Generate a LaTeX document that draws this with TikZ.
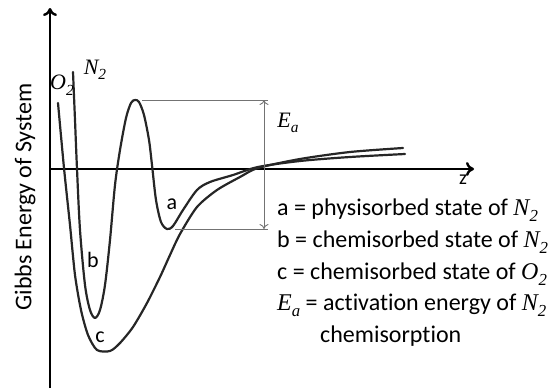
\documentclass[tikz,border=0pt]{standalone}
\usepackage{fontspec}
\setmainfont{Carlito}[Ligatures=NoCommon]
\newfontfamily\serifit{Liberation Serif Italic}
\usetikzlibrary{arrows.meta}
\newcommand{\mvar}[2]{{\serifit #1}\raisebox{-0.25em}{\serifit\scalebox{0.7}{#2}}}
\tikzset{
  axis/.style={line width=2.4pt, black},
  curve/.style={line width=2.2pt, black!85, line join=round, line cap=round},
  guide/.style={line width=0.9pt, black!55},
  legend/.style={anchor=base west, inner sep=0pt, font=\fontsize{24}{28}\selectfont},
  lbl/.style={inner sep=0pt, font=\fontsize{22}{26}\selectfont}
}
\begin{document}
\begin{tikzpicture}[x=1pt,y=-1pt]
\useasboundingbox (0,0) rectangle (558,391);
% axes
\coordinate (ybot) at (50,388);
\coordinate (ytop) at (50,8);
\coordinate (xl) at (50,169);
\coordinate (xr) at (474,169);
\draw[axis,-{To[length=8pt,width=14pt]}] (ybot) -- (ytop);
\draw[axis,-{To[length=8pt,width=14pt]}] (xl) -- (xr);
\node[lbl,font=\fontsize{20}{24}\selectfont] (z) at (463,180) {z};
\node[rotate=90, inner sep=0pt, font=\fontsize{24}{29}\selectfont] (ylab) at (25,197) {Gibbs Energy of System};
% curve c (O2)
\draw[curve] plot[smooth, tension=0.45] coordinates {(58,103) (64,168) (70,225) (75,275) (81,310) (88,335) (97,350) (110,351) (120,343) (133,327) (147,303) (160,277) (170,255) (180,234) (197,207) (217,190) (240,177) (258,168) (300,159) (350,152) (403,148)};
% curve N2 (b, a)
\draw[curve] plot[smooth, tension=0.5] coordinates {(73,72) (75,120) (77,169) (80,230) (85,285) (90,310) (95,318) (100,310) (105,285) (110,240) (115,185) (120,150) (126,118) (131,103) (135,100) (139,102) (144,115) (149,140) (152,165) (156,200) (161,222) (167,229) (173,226) (183,210) (197,190) (210,182) (233,175) (258,167) (300,161) (350,157) (405,154)};
% Ea guides
\coordinate (peak) at (142,100);
\coordinate (pt) at (268,100);
\coordinate (amin) at (175,229);
\coordinate (pb) at (268,229);
\draw[guide] (peak) -- (pt);
\draw[guide] (amin) -- (pb);
\coordinate (at) at (264,100);
\coordinate (ab) at (264,229);
\draw[guide,{To[length=5pt,width=9pt]}-{To[length=5pt,width=9pt]}] (at) -- (ab);
% labels
\node[lbl] (O2) at (62,85) {\mvar{O}{2}};
\node[lbl] (N2) at (95,70) {\mvar{N}{2}};
\node[lbl] (Ea) at (288,123) {\mvar{E}{a}};
\node[lbl] (la) at (172,204) {a};
\node[lbl] (lb) at (93,260) {b};
\node[lbl] (lc) at (100,337) {c};
% legend
\node[legend] (l1) at (277,215) {a = physisorbed state of \mvar{N}{2}};
\node[legend] (l2) at (277,247) {b = chemisorbed state of \mvar{N}{2}};
\node[legend] (l3) at (277,279) {c = chemisorbed state of \mvar{O}{2}};
\node[legend] (l4) at (277,310) {\mvar{E}{a} = activation energy of \mvar{N}{2}};
\node[legend] (l5) at (320,342) {chemisorption};
\end{tikzpicture}
\end{document}
